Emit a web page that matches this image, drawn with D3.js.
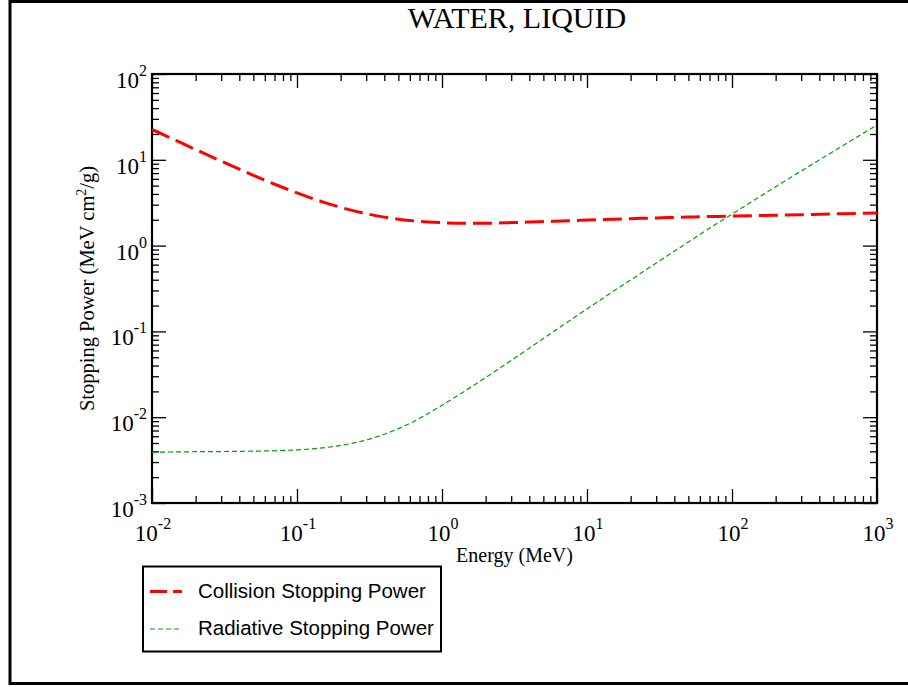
<!DOCTYPE html>
<html>
<head>
<meta charset="utf-8">
<script src="https://cdn.jsdelivr.net/npm/d3@7"></script>
<style>
  body { margin: 0; background: #fff; }
  text { font-family: "Liberation Serif", "Times New Roman", serif; fill: #000; }
  .legend text { font-family: "Liberation Sans", Arial, sans-serif; }
</style>
</head>
<body>
<div id="chart"></div>
<script>
// Data (ESTAR-style)
const energy = [0.01, 0.015, 0.02, 0.03, 0.04, 0.05, 0.06, 0.08, 0.1, 0.15, 0.2, 0.3, 0.4, 0.5, 0.6, 0.8,
  1, 1.5, 2, 3, 4, 5, 6, 8, 10, 15, 20, 30, 40, 50, 60, 80, 100, 150, 200, 300, 400, 500, 600, 800, 1000];
const collision = [22.56, 16.47, 13.17, 9.653, 7.777, 6.603, 5.797, 4.757, 4.115, 3.238, 2.793, 2.355, 2.148, 2.034, 1.963, 1.886,
  1.849, 1.822, 1.824, 1.854, 1.880, 1.903, 1.922, 1.952, 1.99, 2.03, 2.06, 2.10, 2.13, 2.15, 2.17, 2.19, 2.21, 2.24, 2.26, 2.29, 2.32, 2.34, 2.35, 2.38, 2.40];
const radiative = [3.90e-3, 3.94e-3, 3.96e-3, 3.98e-3, 4.00e-3, 4.02e-3, 4.04e-3, 4.10e-3, 4.16e-3, 4.39e-3, 4.69e-3, 5.42e-3, 6.33e-3, 7.36e-3, 8.45e-3, 1.10e-2,
  1.38e-2, 2.11e-2, 2.90e-2, 4.58e-2, 6.38e-2, 8.25e-2, 0.1017, 0.1416, 0.183, 0.289, 0.398, 0.626, 0.86, 1.10, 1.35, 1.84, 2.33, 3.58, 4.85, 7.40, 9.96, 12.5, 15.1, 20.3, 25.4];

const xExponents = [-2, -1, 0, 1, 2, 3];
const yExponents = [-3, -2, -1, 0, 1, 2];

const seriesNames = ["Collision Stopping Power", "Radiative Stopping Power"];
const seriesColors = ["#ff0000", "#00a000"];

const width = 908;
const height = 687;
const plot = { left: 152, right: 877, top: 74, bottom: 503 };

const svg = d3.select("#chart")
  .append("svg")
  .attr("width", width)
  .attr("height", height);

// page frame
svg.append("path")
  .attr("d", `M${width + 5},1.5 H10 V683.5 H${width + 5}`)
  .attr("fill", "none")
  .attr("stroke", "#000")
  .attr("stroke-width", 3);

const x = d3.scaleLog()
  .domain([1e-2, 1e3])
  .range([plot.left, plot.right]);

const y = d3.scaleLog()
  .domain([1e-3, 1e2])
  .range([plot.bottom, plot.top]);

// minor tick values: 2..9 in each decade
const minorX = [];
xExponents.slice(0, -1).forEach(e => { for (let k = 2; k < 10; k++) minorX.push(k * Math.pow(10, e)); });
const minorY = [];
yExponents.slice(0, -1).forEach(e => { for (let k = 2; k < 10; k++) minorY.push(k * Math.pow(10, e)); });
const majorX = xExponents.map(e => Math.pow(10, e));
const majorY = yExponents.map(e => Math.pow(10, e));

function drawAxis(axisFn, scale, values, size, transform) {
  const g = svg.append("g")
    .attr("transform", transform)
    .call(axisFn(scale).tickValues(values).tickSize(size).tickFormat(""));
  g.select(".domain").remove();
  g.selectAll(".tick line").attr("stroke", "#000").attr("stroke-width", 1.3);
  return g;
}

// ticks inward on all four sides
drawAxis(d3.axisBottom, x, majorX, -14, `translate(0,${plot.bottom})`);
drawAxis(d3.axisBottom, x, minorX, -7, `translate(0,${plot.bottom})`);
drawAxis(d3.axisTop, x, majorX, -14, `translate(0,${plot.top})`);
drawAxis(d3.axisTop, x, minorX, -7, `translate(0,${plot.top})`);
drawAxis(d3.axisLeft, y, majorY, -14, `translate(${plot.left},0)`);
drawAxis(d3.axisLeft, y, minorY, -7, `translate(${plot.left},0)`);
drawAxis(d3.axisRight, y, majorY, -14, `translate(${plot.right},0)`);
drawAxis(d3.axisRight, y, minorY, -7, `translate(${plot.right},0)`);

// plot frame
svg.append("rect")
  .attr("x", plot.left)
  .attr("y", plot.top)
  .attr("width", plot.right - plot.left)
  .attr("height", plot.bottom - plot.top)
  .attr("fill", "none")
  .attr("stroke", "#000")
  .attr("stroke-width", 2.2);

// tick labels with superscripts
function powerLabel(sel, e) {
  sel.append("tspan").attr("font-size", 23).text("10");
  sel.append("tspan").attr("font-size", 16).attr("dy", -12).text(e < 0 ? "-" + (-e) : String(e));
}

xExponents.forEach(e => {
  const t = svg.append("text")
    .attr("x", x(Math.pow(10, e)) + 1)
    .attr("y", 541)
    .attr("text-anchor", "middle");
  powerLabel(t, e);
});

yExponents.forEach(e => {
  const t = svg.append("text")
    .attr("x", plot.left - 5)
    .attr("y", y(Math.pow(10, e)) + 14)
    .attr("text-anchor", "end");
  powerLabel(t, e);
});

// title and axis titles
svg.append("text")
  .attr("x", 517)
  .attr("y", 28)
  .attr("text-anchor", "middle")
  .attr("font-size", 30)
  .text("WATER, LIQUID");

svg.append("text")
  .attr("x", (plot.left + plot.right) / 2)
  .attr("y", 562)
  .attr("text-anchor", "middle")
  .attr("font-size", 20)
  .text("Energy (MeV)");

const yTitle = svg.append("text")
  .attr("transform", `translate(94,${(plot.top + plot.bottom) / 2}) rotate(-90)`)
  .attr("text-anchor", "middle")
  .attr("font-size", 20.5);
yTitle.append("tspan").text("Stopping Power (MeV cm");
yTitle.append("tspan").attr("font-size", 14).attr("dy", -8).text("2");
yTitle.append("tspan").attr("dy", 8).text("/g)");

// curves
svg.append("clipPath").attr("id", "clip")
  .append("rect")
  .attr("x", plot.left).attr("y", plot.top)
  .attr("width", plot.right - plot.left).attr("height", plot.bottom - plot.top);

const line = d3.line()
  .x(d => x(d[0]))
  .y(d => y(d[1]))
  .curve(d3.curveMonotoneX);

svg.append("path")
  .datum(d3.zip(energy, radiative))
  .attr("clip-path", "url(#clip)")
  .attr("fill", "none")
  .attr("stroke", seriesColors[1])
  .attr("stroke-width", 1.2)
  .attr("stroke-dasharray", "5,3")
  .attr("d", line);

svg.append("path")
  .datum(d3.zip(energy, collision))
  .attr("clip-path", "url(#clip)")
  .attr("fill", "none")
  .attr("stroke", seriesColors[0])
  .attr("stroke-width", 3)
  .attr("stroke-dasharray", "19,7")
  .attr("d", line);

// legend
const legend = svg.append("g").attr("class", "legend");
legend.append("rect")
  .attr("x", 143)
  .attr("y", 566.5)
  .attr("width", 298)
  .attr("height", 85)
  .attr("fill", "#fff")
  .attr("stroke", "#000")
  .attr("stroke-width", 2);

const legendRows = [
  { y: 591.5, width: 3, dash: "17,6" },
  { y: 629, width: 1.2, dash: "5,3" }
];
legendRows.forEach((row, i) => {
  legend.append("line")
    .attr("x1", 150).attr("x2", 182)
    .attr("y1", row.y).attr("y2", row.y)
    .attr("stroke", seriesColors[i])
    .attr("stroke-width", row.width)
    .attr("stroke-dasharray", row.dash);
  legend.append("text")
    .attr("x", 198)
    .attr("y", row.y + 6)
    .attr("font-size", 20.5)
    .text(seriesNames[i]);
});
</script>
</body>
</html>
